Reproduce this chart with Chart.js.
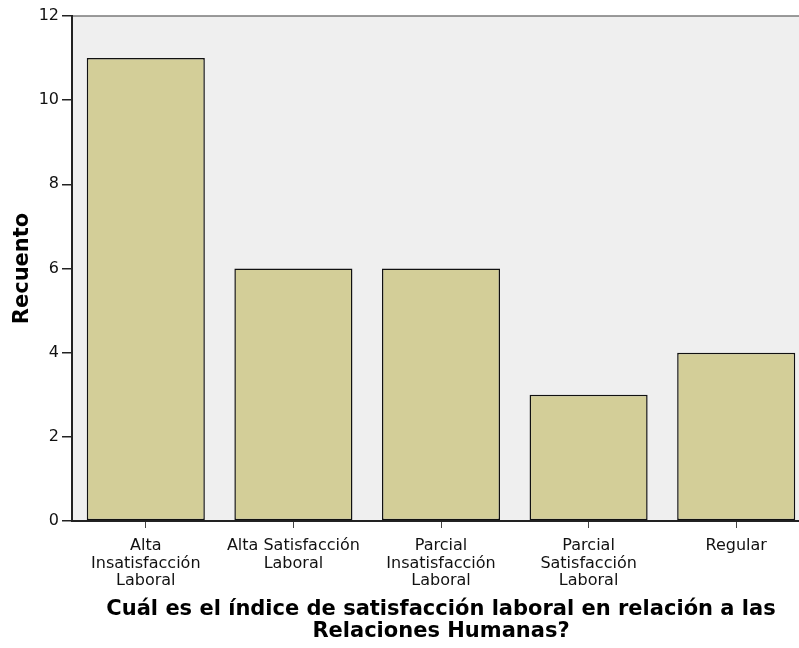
<!DOCTYPE html>
<html>
<head>
<meta charset="utf-8">
<script src="https://cdn.jsdelivr.net/npm/chart.js@4/dist/chart.umd.min.js"></script>
<style>
  html, body { margin: 0; padding: 0; background: #fff; overflow: hidden; }
  #wrap { width: 799px; height: 648px; overflow: hidden; }
</style>
</head>
<body>
<div id="wrap"><canvas id="recuento" width="812" height="648"></canvas></div>
<script>
var categorias = [
   ['Alta', 'Insatisfacción', 'Laboral'],
   ['Alta Satisfacción', 'Laboral'],
   ['Parcial', 'Insatisfacción', 'Laboral'],
   ['Parcial', 'Satisfacción', 'Laboral'],
   'Regular'
];
var recuentos = [11, 6, 6, 3, 4];
var tituloX = ['Cuál es el índice de satisfacción laboral en relación a las', 'Relaciones Humanas?'];
var tituloY = 'Recuento';

// fondo gris del area de grafico + linea superior
var fondo = {
   id: 'fondo',
   beforeDraw: function(chart) {
      var a = chart.chartArea, c = chart.ctx;
      c.save();
      c.fillStyle = '#efefef';
      c.fillRect(a.left, a.top, a.right - a.left, a.bottom - a.top);
      c.strokeStyle = '#7a7a7a';
      c.lineWidth = 1.5;
      c.beginPath();
      c.moveTo(a.left, a.top);
      c.lineTo(a.right, a.top);
      c.stroke();
      c.restore();
   }
};

var ctx = document.getElementById('recuento').getContext('2d');
var chart = new Chart(ctx, {
   type: 'bar',
   data: {
      labels: categorias,
      datasets: [{
         label: tituloY,
         data: recuentos,
         backgroundColor: '#d3ce98',
         borderColor: '#111',
         borderWidth: 1.5,
         borderSkipped: false,
         categoryPercentage: 0.8,
         barPercentage: 1.0
      }]
   },
   options: {
      responsive: false,
      animation: false,
      layout: { padding: { left: 0, right: 2, top: 16, bottom: 0 } },
      plugins: { legend: { display: false }, tooltip: { enabled: false } },
      scales: {
         y: {
            min: 0, max: 12,
            ticks: { stepSize: 2, color: '#111', padding: 3, font: { family: 'DejaVu Sans', size: 16 } },
            grid: { drawOnChartArea: false, tickLength: 10, color: '#222', lineWidth: 1.5 },
            border: { color: '#222', width: 2 },
            title: { display: true, text: tituloY, color: '#000', padding: { top: 10, bottom: 0 },
                     font: { family: 'DejaVu Sans', size: 21, weight: 'bold' } },
            afterFit: function(s) { s.width = 72; }
         },
         x: {
            ticks: { color: '#111', padding: 9, maxRotation: 0, autoSkip: false,
                     font: { family: 'DejaVu Sans', size: 16, lineHeight: 1.1 } },
            grid: { offset: false, drawOnChartArea: false, tickLength: 7, color: '#444', lineWidth: 1 },
            border: { color: '#222', width: 2 },
            title: { display: true, text: tituloX, color: '#000', padding: { top: 4, bottom: 5 },
                     font: { family: 'DejaVu Sans', size: 21, weight: 'bold', lineHeight: 1.05 } },
            afterFit: function(s) { s.height = 127; }
         }
      }
   },
   plugins: [fondo]
});
</script>
</body>
</html>
